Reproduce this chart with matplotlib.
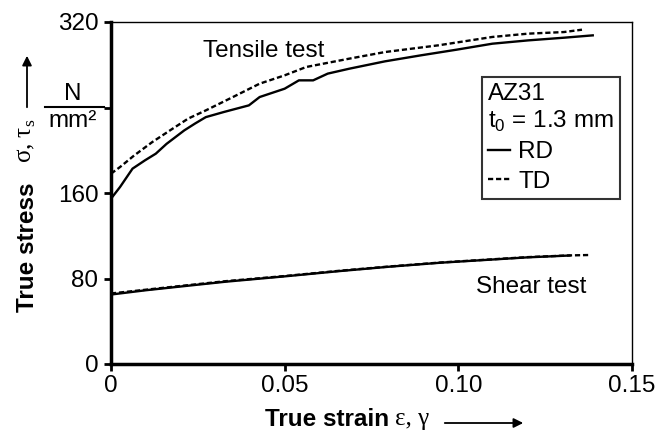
import numpy as np
import matplotlib
matplotlib.use("Agg")
import matplotlib.pyplot as plt
from matplotlib.lines import Line2D

plt.rcParams['font.family'] = ['Liberation Sans', 'DejaVu Sans']
plt.rcParams['mathtext.fontset'] = 'custom'

# Tensile test, rolling direction (RD)
rd_tens_strain = [0.0, 0.0026, 0.0062, 0.0098, 0.0129, 0.016, 0.0211, 0.0242, 0.0273, 0.0325,
                  0.0397, 0.0428, 0.05, 0.0541, 0.0582, 0.0624, 0.0686, 0.0789, 0.0892, 0.0995,
                  0.1098, 0.1201, 0.1304, 0.1387]
rd_tens_stress = [154.7, 165.6, 182.8, 190.6, 196.8, 206.0, 218.6, 225.0, 231.0, 235.8,
                  242.0, 249.8, 257.6, 265.4, 265.4, 271.7, 276.3, 283.2, 288.8, 294.1,
                  299.7, 302.8, 305.3, 307.5]

# Tensile test, transverse direction (TD)
td_tens_strain = [0.0, 0.0026, 0.0067, 0.0119, 0.017, 0.0222, 0.0273, 0.0351, 0.0428, 0.05,
                  0.0562, 0.0686, 0.0789, 0.0943, 0.1098, 0.1201, 0.1304, 0.1356]
td_tens_stress = [178.1, 184.3, 195.2, 207.7, 218.6, 229.6, 237.3, 249.8, 262.3, 270.1,
                  277.9, 285.7, 291.9, 298.2, 306.0, 309.1, 310.6, 312.8]

# Shear test
rd_shear_strain = [0.0, 0.01, 0.02, 0.033, 0.05, 0.066, 0.08, 0.095, 0.11, 0.12, 0.132]
rd_shear_stress = [65.0, 69.0, 72.5, 77.0, 82.0, 87.0, 91.0, 94.8, 97.8, 99.8, 101.5]
td_shear_strain = [0.0, 0.01, 0.02, 0.033, 0.05, 0.066, 0.08, 0.095, 0.11, 0.12, 0.132, 0.138]
td_shear_stress = [66.0, 69.5, 73.0, 77.5, 82.3, 87.3, 91.2, 95.0, 98.0, 100.0, 101.6, 102.0]

xticks = [0, 0.05, 0.10, 0.15]
xtick_labels = ['0', '0.05', '0.10', '0.15']
yticks = [0, 80, 160, 240, 320]
ytick_labels = ['0', '80', '160', '', '320']

FS = 17.5
W, H = 668, 432
fig = plt.figure(figsize=(W / 100, H / 100), dpi=100)
ax = fig.add_axes([111 / W, 1 - 364 / H, 521 / W, 342 / H])

lw = 1.7
dash = (0, (2.2, 1.2))
ax.plot(rd_tens_strain, rd_tens_stress, color='black', lw=lw, label='RD')
ax.plot(td_tens_strain, td_tens_stress, color='black', lw=lw, ls=dash, label='TD')
ax.plot(rd_shear_strain, rd_shear_stress, color='black', lw=lw)
ax.plot(td_shear_strain, td_shear_stress, color='black', lw=lw, ls=dash)

ax.set_xlim(0, 0.15)
ax.set_ylim(0, 320)
ax.set_xticks(xticks)
ax.set_xticklabels(xtick_labels)
ax.set_yticks(yticks)
ax.set_yticklabels(ytick_labels)
ax.tick_params(direction='out', length=5, width=2, labelsize=FS, colors='black')
ax.tick_params(axis='y', pad=4)
ax.tick_params(axis='x', pad=3)
for side in ['left', 'bottom']:
    ax.spines[side].set_linewidth(2.5)
for side in ['top', 'right']:
    ax.spines[side].set_linewidth(1.0)

ax.text(0.0265, 287, 'Tensile test', fontsize=FS, ha='left', va='baseline')
ax.text(0.105, 66.4, 'Shear test', fontsize=FS, ha='left', va='baseline')

leg = ax.legend(loc='upper left', bbox_to_anchor=(0.712, 0.839),
                title='AZ31\nt$_\\mathregular{0}$ = 1.3 mm', title_fontsize=FS,
                alignment='left', fontsize=FS, handlelength=0.9, handletextpad=0.35,
                borderpad=0.25, borderaxespad=0, labelspacing=0.3, fancybox=False,
                frameon=True, edgecolor='black')
leg.get_frame().set_linewidth(1.5)

# axis labels with arrows
def fx(px):
    return px / W

def fy(py):
    return 1 - py / H

fig.text(fx(265), fy(419), 'True strain', fontsize=FS, fontweight='bold', ha='left', va='center')
fig.text(fx(395), fy(419), 'ε, γ', fontsize=18, family=['Liberation Serif', 'DejaVu Serif'],
         ha='left', va='center')
fig.patches.append(matplotlib.patches.FancyArrowPatch(
    (fx(442), fy(423)), (fx(526), fy(423)), transform=fig.transFigure,
    arrowstyle='-|>', mutation_scale=14, color='black', lw=1.3))

fig.text(fx(27), fy(247), 'True stress', fontsize=FS, fontweight='bold', rotation=90,
         ha='center', va='center')
fig.text(fx(27), fy(141), 'σ, τ$_\\mathregular{s}$', fontsize=18, rotation=90,
         family=['Liberation Serif', 'DejaVu Serif'], ha='center', va='center')
fig.patches.append(matplotlib.patches.FancyArrowPatch(
    (fx(27), fy(110)), (fx(27), fy(53)), transform=fig.transFigure,
    arrowstyle='-|>', mutation_scale=14, color='black', lw=1.3))

# unit fraction beside the 240 tick
fig.text(fx(73), fy(94), 'N', fontsize=FS, ha='center', va='center')
fig.lines.append(Line2D([fx(45), fx(104)], [fy(107), fy(107)], transform=fig.transFigure,
                        color='black', lw=1.5))
fig.text(fx(73), fy(121), 'mm²', fontsize=FS, ha='center', va='center')

fig.savefig('out.png', dpi=100)
